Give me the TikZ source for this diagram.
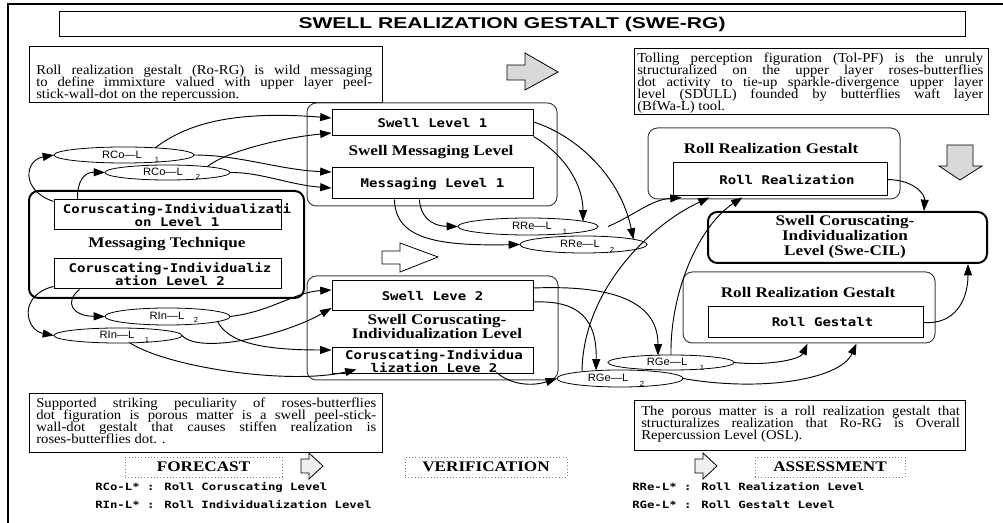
\documentclass[tikz,border=0pt]{standalone}
\usepackage{fontspec}
\setmainfont{Liberation Serif}[FakeStretch=1.08]
\newfontfamily\bserif{Liberation Serif}[FakeStretch=1.17]
\newfontfamily\titlefont{Liberation Sans}[FakeStretch=1.35]
\newfontfamily\monob{DejaVu Sans Mono}[FakeStretch=1.17]
\newfontfamily\legfont{DejaVu Sans Mono}[FakeStretch=1.23]
\newfontfamily\ellfont{Liberation Sans}[FakeStretch=1.05]
\usetikzlibrary{calc,fit,shapes.geometric,arrows.meta}
\tikzset{
  frame/.style={draw, inner sep=0pt, line width=0.75pt},
  cont/.style={draw=black!75, rounded corners=7pt, inner sep=0pt, line width=0.75pt},
  heavycont/.style={draw, rounded corners=7pt, inner sep=0pt, line width=1.5pt},
  mono/.style={font=\monob\bfseries\fontsize{9}{10}\selectfont, inner sep=0pt, align=center},
  blab/.style={font=\bserif\bfseries\fontsize{11}{10.5}\selectfont, inner sep=0pt, align=center},
  ell/.style={ellipse, draw, inner sep=0pt, outer sep=0pt, line width=0.6pt},
  elab/.style={font=\ellfont\fontsize{8}{9}\selectfont, inner sep=0pt},
  esub/.style={font=\ellfont\fontsize{5.5}{6}\selectfont, inner sep=0pt},
  para/.style={font={\fontsize{10.2}{9}\selectfont\lineskiplimit=-10pt\hyphenpenalty=10000\exhyphenpenalty=10000\tolerance=10000},
    inner sep=0pt, align=justify, anchor=north west},
  conn/.style={line width=0.7pt, -{Triangle[length=8.5pt,width=6pt]}},
  barrow/.style={draw, line width=0.6pt},
  dotbox/.style={draw=gray, dash pattern=on 0.6pt off 1.8pt, line width=0.6pt, inner sep=0pt},
  stage/.style={font=\bserif\bfseries\fontsize{11}{12}\selectfont, inner sep=0pt},
  legend/.style={font=\legfont\bfseries\fontsize{7.5}{8}\selectfont, inner sep=0pt, anchor=west},
}
\begin{document}
\begin{tikzpicture}[x=0.75pt,y=-0.75pt]
\useasboundingbox (0,0) rectangle (1003,523);
\draw[line width=0.9pt] (8,523) -- (8,4) -- (1003,4);

% title
\node[frame, fit={(59,12) (965,37)}] (title) {};
\node[font=\titlefont\bfseries\fontsize{11.7}{12}\selectfont, inner sep=0pt] (titlet) at (title) {SWELL REALIZATION GESTALT (SWE-RG)};

% text boxes
\node[frame, fit={(29,47) (382,103)}] (tb1) {};
\node[para, text width=252pt] (tb1t) at (36,65) {Roll realization gestalt (Ro-RG) is wild messaging\linebreak to define immixture valued with upper layer peel-\linebreak stick-wall-dot on the repercussion.};
\node[frame, fit={(634,49) (988,115)}] (tb2) {};
\node[para, text width=259.5pt] (tb2t) at (637,53) {Tolling perception figuration (Tol-PF) is the unruly\linebreak structuralized on the upper layer roses-butterflies\linebreak dot activity to tie-up sparkle-divergence upper layer\linebreak level (SDULL) founded by butterflies waft layer\linebreak (BfWa-L) tool.};
\node[frame, fit={(29,394) (382,453)}] (tb3) {};
\node[para, text width=255pt] (tb3t) at (36,398) {Supported striking peculiarity of roses-butterflies\linebreak dot figuration is porous matter is a swell peel-stick-\linebreak wall-dot gestalt that causes stiffen realization is\linebreak roses-butterflies dot. .};
\node[frame, fit={(634,401) (965,451)}] (tb4) {};
\node[para, text width=239pt] (tb4t) at (641,406) {The porous matter is a roll realization gestalt that\linebreak structuralizes realization that Ro-RG is Overall\linebreak Repercussion Level (OSL).};

% block arrows
\draw[barrow, fill=gray!30] (507,65) -- (525,65) -- (525,53) -- (558,72) -- (525,90) -- (525,80) -- (507,80) -- cycle;
\draw[barrow, fill=white] (382,251) -- (400,251) -- (400,243) -- (438,257) -- (400,272) -- (400,264) -- (382,264) -- cycle;
\draw[barrow, fill=gray!30] (947,145) -- (973,145) -- (973,166) -- (982,166) -- (960,180) -- (939,166) -- (947,166) -- cycle;
\draw[barrow, fill=gray!12] (301,459) -- (309,459) -- (309,453) -- (323,466) -- (309,479) -- (309,473) -- (301,473) -- cycle;
\draw[barrow, fill=gray!12] (695,459) -- (703,459) -- (703,453) -- (717,466) -- (703,479) -- (703,473) -- (695,473) -- cycle;

% Swell Messaging Level
\node[cont, fit={(307,103) (557,206)}] (swml) {};
\node[frame, fit={(332,110) (533,136)}] (sl1) {};
\node[mono] (sl1t) at (sl1) {Swell Level 1};
\node[blab] (swmlt) at (431,152) {Swell Messaging Level};
\node[frame, fit={(332,168) (533,199)}] (ml1) {};
\node[mono] (ml1t) at (ml1) {Messaging Level 1};

% Messaging Technique
\node[heavycont, fit={(29,191) (304,298)}] (mt) {};
\node[frame, fit={(54,200) (281,230)}] (cil1) {};
\node[mono] (cil1t) at (177,215) {Coruscating-Individualizati\\on Level 1};
\node[blab] (mtt) at (167,244) {Messaging Technique};
\node[frame, fit={(54,259) (281,289)}] (cil2) {};
\node[mono] (cil2t) at (170,274.5) {Coruscating-Individualiz\\ation Level 2};

% Swell Coruscating-Individualization Level
\node[cont, fit={(307,276) (558,380)}] (scil) {};
\node[frame, fit={(332,281) (533,311)}] (sl2) {};
\node[mono] (sl2t) at (sl2) {Swell Leve 2};
\node[blab] (scilt) at (437,327) {Swell Coruscating-\\Individualization Level};
\node[frame, fit={(332,348) (533,374)}] (cil2b) {};
\node[mono] (cil2bt) at (434,361.5) {Coruscating-Individua\\lization Leve 2};

% right side
\node[cont, fit={(648,128) (900,199)}] (rrgu) {};
\node[blab] (rrgut) at (771,148) {Roll Realization Gestalt};
\node[frame, fit={(673,163) (887,196)}] (rr) {};
\node[mono] (rrt) at ($(rr)+(7,0)$) {Roll Realization};
\node[heavycont, fit={(708,212) (987,263)}] (swecil) {};
\node[blab, font=\bserif\bfseries\fontsize{11}{11.25}\selectfont] (swecilt) at (845,237) {Swell Coruscating-\\Individualization\\Level (Swe-CIL)};
\node[cont, fit={(683,272) (935,343)}] (rrgl) {};
\node[blab] (rrglt) at (808,292) {Roll Realization Gestalt};
\node[frame, fit={(708,307) (923,338)}] (rg) {};
\node[mono] (rgt) at ($(rg)+(7,0)$) {Roll Gestalt};

% ellipses
\node[ell, minimum width=105pt, minimum height=12pt] (rco1) at (124,155) {};
\node[elab] (rco1l) at (122,154.5) {RCo—L};
\node[esub] (rco1s) at (157,160) {1};
\node[ell, minimum width=93.75pt, minimum height=11.25pt] (rco2) at (167.5,172.5) {};
\node[elab] (rco2l) at (163,172) {RCo—L};
\node[esub] (rco2s) at (198,177) {2};
\node[ell, minimum width=93.75pt, minimum height=12.75pt] (rin2) at (167.5,316.5) {};
\node[elab] (rin2l) at (167,316) {RIn—L};
\node[esub] (rin2s) at (196,320) {2};
\node[ell, minimum width=96pt, minimum height=11.25pt] (rin1) at (118,335.5) {};
\node[elab] (rin1l) at (117,335) {RIn—L};
\node[esub] (rin1s) at (147,340) {1};
\node[ell, minimum width=105pt, minimum height=12.75pt] (rre1) at (528,226.5) {};
\node[elab] (rre1l) at (532,226) {RRe—L};
\node[esub] (rre1s) at (565,232) {1};
\node[ell, minimum width=95.25pt, minimum height=12.75pt] (rre2) at (583.5,244.5) {};
\node[elab] (rre2l) at (580,244) {RRe—L};
\node[esub] (rre2s) at (612,250) {2};
\node[ell, minimum width=94.5pt, minimum height=11.25pt] (rge1) at (671,362.5) {};
\node[elab] (rge1l) at (667,362) {RGe—L};
\node[esub] (rge1s) at (702,368) {1};
\node[ell, minimum width=94.5pt, minimum height=12.75pt] (rge2) at (620,378.5) {};
\node[elab] (rge2l) at (608,378) {RGe—L};
\node[esub] (rge2s) at (642,384) {2};

% connectors
\draw[conn] ($(rco1)+(31,-7)$) .. controls (185,125) and (230,110) .. ($(sl1.west)+(0,-5)$);
\draw[conn] ($(rco2)+(40,-6)$) .. controls (225,152) and (280,138) .. ($(sl1.west)+(0,10)$);
\draw[conn] (rco1.east) .. controls (240,155) and (280,170) .. ($(ml1.west)+(0,-11.5)$);
\draw[conn] (rco2.east) .. controls (260,172) and (290,185) .. ($(ml1.west)+(0,4.5)$);
\draw[conn] ($(cil1.north west)+(0,2)$) .. controls (20,190) and (25,160) .. (rco1.west);
\draw[conn] ($(cil1.north west)+(24,0)$) .. controls (77,180) and (85,172) .. (rco2.west);
\draw[conn] ($(cil2.south west)+(0,-3)$) .. controls (18,295) and (25,330) .. (rin1.west);
\draw[conn] ($(cil2.south west)+(26,0)$) .. controls (64,302) and (72,316) .. (rin2.west);
\draw[conn] (rin2.east) .. controls (270,312) and (295,292) .. ($(sl2.west)+(0,-6)$);
\draw[conn] (rin1.east) .. controls (200,355) and (285,335) .. ($(sl2.west)+(0,12)$);
\draw[conn] ($(rin2)+(50,5)$) .. controls (228,342) and (260,350) .. ($(cil2b.west)+(0,-11)$);
\draw[conn] ($(rin1)+(12,7.5)$) .. controls (170,368) and (290,385) .. ($(cil2b.south west)+(25,-5)$);
\draw[conn] ($(ml1.south west)+(88,0)$) .. controls (420,215) and (430,226) .. (rre1.west);
\draw[conn] ($(ml1.south west)+(63,0)$) .. controls (395,240) and (440,246) .. (rre2.west);
\draw[conn] (sl1.south east) .. controls (565,155) and (583,185) .. ($(rre1)+(55,-5)$);
\draw[conn] ($(sl1.east)+(0,-1)$) .. controls (575,135) and (620,175) .. ($(rre2)+(50,-5)$);
\draw[conn] ($(rre1.east)+(10,0)$) .. controls (635,215) and (650,200) .. ($(rr.south west)+(9,1)$);
\draw[conn] ($(sl2.east)+(0,-8)$) .. controls (610,285) and (658,300) .. ($(rge1)+(-13,-7)$);
\draw[conn] ($(sl2.east)+(0,6)$) .. controls (580,300) and (597,320) .. ($(rge2)+(-24,-8)$);
\draw[conn] ($(rge2)+(-38,-7)$) .. controls (583,290) and (650,225) .. ($(rr.south west)+(37,1)$);
\draw[conn] (rge1.north) .. controls (670,290) and (700,225) .. ($(rr.south west)+(70,1)$);
\draw[conn] (rr.east) .. controls (915,180) and (925,195) .. ($(swecil.north west)+(217,0)$);
\draw[conn] (rg.east) .. controls (955,325) and (968,300) .. ($(swecil.south east)+(-20,0)$);
\draw[conn] (rge1.east) .. controls (765,366) and (800,360) .. ($(rrgl.south west)+(125,0)$);
\draw[conn] (rge2.east) .. controls (760,392) and (840,380) .. ($(rrgl.south west)+(174,0)$);
\draw[conn] ($(cil2b.south west)+(165,-2)$) .. controls (510,384) and (530,387) .. (rge2.west);

% bottom stages
\node[dotbox, fit={(125,457) (282,477)}] (fc) {};
\node[stage] (fct) at (fc) {FORECAST};
\node[dotbox, fit={(405,457) (567,477)}] (vf) {};
\node[stage] (vft) at (vf) {VERIFICATION};
\node[dotbox, fit={(755,457) (905,477)}] (as) {};
\node[stage] (ast) at (as) {ASSESSMENT};
\node[legend] (lg1) at (95,487) {RCo-L* : Roll Coruscating Level};
\node[legend] (lg2) at (95,505) {RIn-L* : Roll Individualization Level};
\node[legend] (lg3) at (632,487) {RRe-L* : Roll Realization Level};
\node[legend] (lg4) at (632,505) {RGe-L* : Roll Gestalt Level};
\end{tikzpicture}
\end{document}
